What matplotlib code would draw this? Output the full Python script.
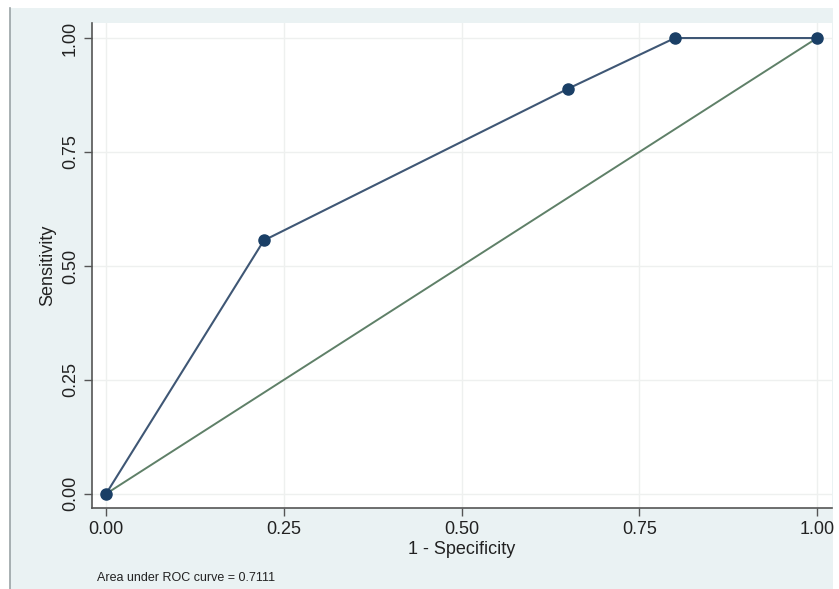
import numpy as np
import matplotlib.pyplot as plt
from matplotlib.patches import Rectangle

# ROC points
fpr = [0.0, 0.222, 0.65, 0.8, 1.0]
tpr = [0.0, 0.556, 0.889, 1.0, 1.0]
ref_x = [0.0, 1.0]
ref_y = [0.0, 1.0]
ticks = [0.0, 0.25, 0.5, 0.75, 1.0]
tick_labels = ["0.00", "0.25", "0.50", "0.75", "1.00"]
auc_text = "Area under ROC curve = 0.7111"

plt.rcParams['font.family'] = ['Liberation Sans', 'DejaVu Sans']

fig = plt.figure(figsize=(8.39, 5.89), dpi=100, facecolor='white')
W, H = 839, 589

# stata-like graph region, kept behind the axes
bg = Rectangle((10 / W, 0), 823 / W, 581 / H, transform=fig.transFigure,
               facecolor='#eaf2f3', edgecolor='none', zorder=-10)
fig.patches.append(bg)
fig.add_artist(plt.Line2D([10 / W, 10 / W], [0, 581 / H], transform=fig.transFigure,
                          color='#9aa3a6', lw=1.2, zorder=-9))

ax = fig.add_axes([92 / W, (H - 508) / H, (832 - 92) / W, (508 - 23) / H])
ax.set_facecolor('white')

ax.plot(ref_x, ref_y, color='#5f8068', lw=1.4, zorder=2)
ax.plot(fpr, tpr, color='#3f5775', lw=1.5, marker='o', markersize=8,
        markerfacecolor='#1a3f66', markeredgecolor='#1a3f66', zorder=3)

ax.set_xlim(-0.0197, 1.021)
ax.set_ylim(-0.031, 1.033)
ax.set_xticks(ticks)
ax.set_xticklabels(tick_labels)
ax.set_yticks(ticks)
ax.set_yticklabels(tick_labels, rotation=90, va='center')
ax.tick_params(labelsize=13, length=6, width=1, color='#555555', labelcolor='#222222')

ax.grid(True, color='#eef0ef', lw=1)
ax.set_axisbelow(True)
for side in ['top', 'right']:
    ax.spines[side].set_visible(False)
for side in ['left', 'bottom']:
    ax.spines[side].set_color('#555555')
    ax.spines[side].set_linewidth(1.2)

ax.set_xlabel("1 - Specificity", fontsize=13, color='#222222', labelpad=2)
ax.set_ylabel("Sensitivity", fontsize=13, color='#222222', labelpad=4)

fig.text(97 / W, 1 - 578 / H, auc_text, fontsize=9, color='#222222', va='center')

fig.savefig("out.png", dpi=100, facecolor=fig.get_facecolor())
